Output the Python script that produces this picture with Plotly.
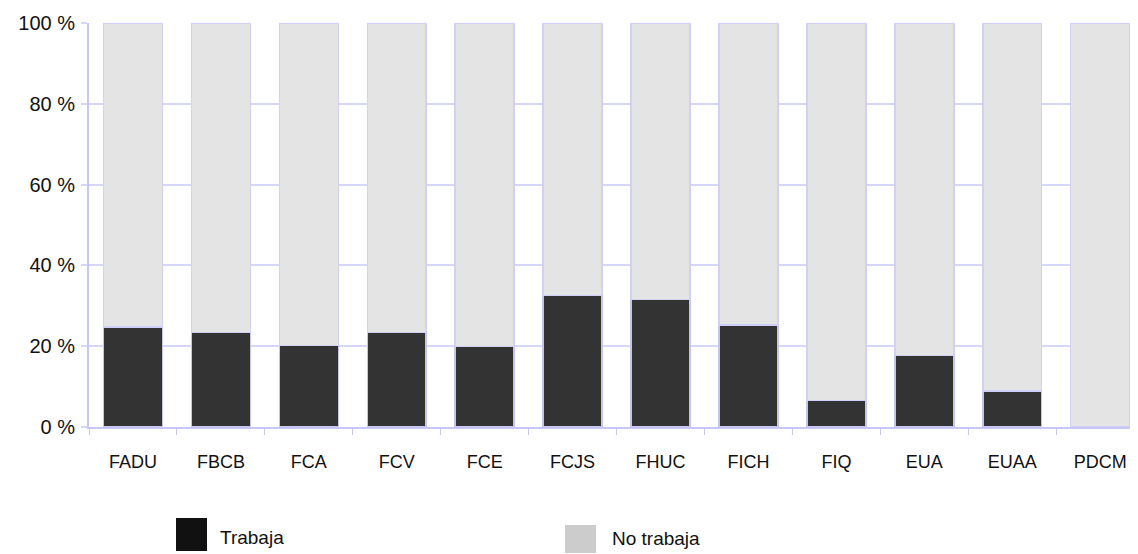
import plotly.graph_objects as go

categories = ["FADU", "FBCB", "FCA", "FCV", "FCE", "FCJS", "FHUC", "FICH", "FIQ", "EUA", "EUAA", "PDCM"]
trabaja = [24.7, 23.4, 20.2, 23.4, 19.9, 32.6, 31.6, 25.2, 6.6, 17.7, 8.9, 0.0]
no_trabaja = [round(100 - v, 1) for v in trabaja]
y_tick_vals = [0, 20, 40, 60, 80, 100]
y_tick_text = ["0 %", "20 %", "40 %", "60 %", "80 %", "100 %"]
legend_labels = ["Trabaja", "No trabaja"]

FONT = "Liberation Sans, Arial, sans-serif"
LAV = "#d6d6fb"
AXIS = "#c8c8f8"

fig = go.Figure()
fig.add_trace(go.Bar(
    x=categories, y=trabaja, name=legend_labels[0], width=0.67,
    marker=dict(color="#333333", line=dict(color="#c4c4f0", width=1.5)),
))
fig.add_trace(go.Bar(
    x=categories, y=no_trabaja, name=legend_labels[1], width=0.67,
    marker=dict(color="#e4e4e4", line=dict(color="#d0d0fa", width=1.5)),
))

# page has an 8px body margin: figure origin is at page (8, 8)
fig.update_layout(
    barmode="stack",
    width=1130, height=546,
    margin=dict(l=81, r=0, t=15, b=127),
    paper_bgcolor="white", plot_bgcolor="white",
    showlegend=False,
    font=dict(family=FONT, color="#111111"),
)
fig.update_xaxes(
    type="category", range=[-0.5, 11.43],
    showgrid=False, showline=True, linecolor=AXIS, linewidth=2,
    ticks="outside", tickson="boundaries", ticklen=6, tickcolor=AXIS, tickwidth=1,
    tickfont=dict(size=18, family=FONT, color="#111111"),
    ticklabelstandoff=17,
)
fig.update_yaxes(
    range=[0, 100], tickvals=y_tick_vals, ticktext=y_tick_text,
    showgrid=True, gridcolor=LAV, gridwidth=2,
    showline=True, linecolor=AXIS, linewidth=2,
    ticks="outside", ticklen=6, tickcolor=LAV, tickwidth=2,
    tickfont=dict(size=20, family=FONT, color="#111111"),
    ticklabelstandoff=2, zeroline=False,
)

# legend drawn manually (page pixel positions converted to paper coords)
def px_x(p):
    return (p - 89) / 1049.0

def px_y(p):
    return (427 - p) / 404.0

fig.add_shape(type="rect", xref="paper", yref="paper",
              x0=px_x(176), x1=px_x(207), y0=px_y(551), y1=px_y(518),
              fillcolor="#111111", line=dict(width=0))
fig.add_shape(type="rect", xref="paper", yref="paper",
              x0=px_x(565), x1=px_x(596), y0=px_y(553), y1=px_y(525),
              fillcolor="#cccccc", line=dict(width=0))
fig.add_annotation(xref="paper", yref="paper", x=px_x(218), y=px_y(537),
                   text=legend_labels[0], showarrow=False, xanchor="left", yanchor="middle",
                   font=dict(size=19, family=FONT, color="#111111"))
fig.add_annotation(xref="paper", yref="paper", x=px_x(610), y=px_y(538),
                   text=legend_labels[1], showarrow=False, xanchor="left", yanchor="middle",
                   font=dict(size=19, family=FONT, color="#111111"))

fig.write_html("out.html")
